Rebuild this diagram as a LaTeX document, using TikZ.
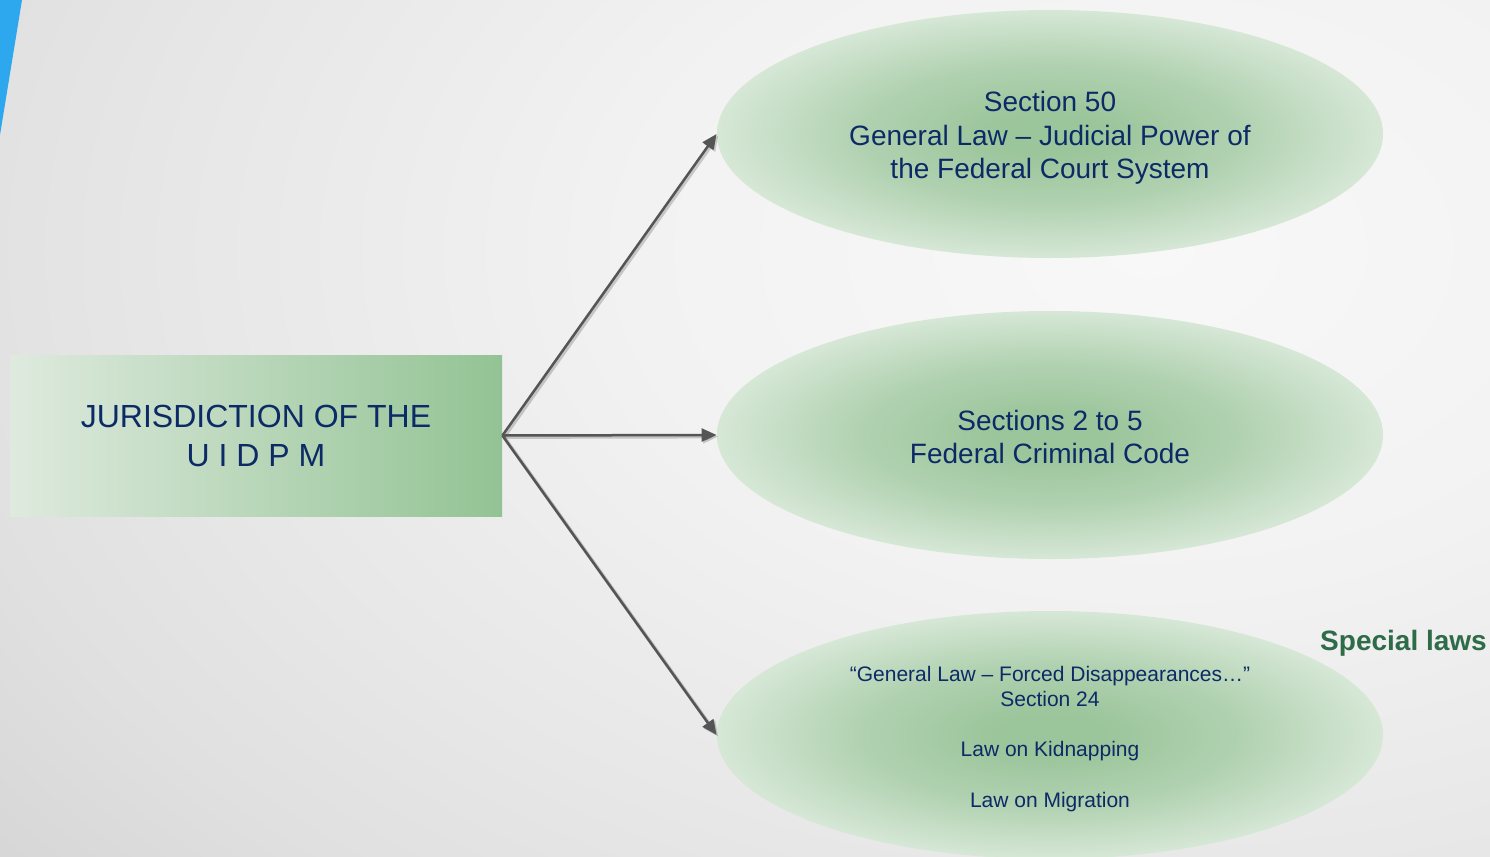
\documentclass[tikz,border=0pt]{standalone}
\usepackage{fontspec}
\setmainfont{Liberation Sans}
\usetikzlibrary{shapes.geometric,arrows.meta}
\definecolor{navy}{HTML}{0C2A66}
\definecolor{bgA}{HTML}{F8F8F8}
\definecolor{bgB}{HTML}{F2F2F2}
\definecolor{bgC}{HTML}{E7E7E7}
\definecolor{bgD}{HTML}{E0E0E0}
\definecolor{bgE}{HTML}{D6D6D6}
\definecolor{blueacc}{HTML}{2DA8EE}
\definecolor{boxl}{HTML}{DEEADE}
\definecolor{boxr}{HTML}{93C394}
\definecolor{ellA}{HTML}{9BC59B}
\definecolor{ellB}{HTML}{B0D1B0}
\definecolor{ellC}{HTML}{D6E7D6}
\definecolor{arrowgray}{HTML}{555555}
\definecolor{specialgreen}{HTML}{2E6B48}
\pgfdeclareradialshading{bgshade}{\pgfpoint{0bp}{0bp}}{color(0bp)=(bgA); color(10bp)=(bgB); color(18.75bp)=(bgC); color(23.75bp)=(bgD); color(28.75bp)=(bgE); color(50bp)=(bgE)}
\pgfdeclareradialshading{ellshade}{\pgfpoint{0bp}{0bp}}{color(0bp)=(ellA); color(4bp)=(ellA); color(14bp)=(ellB); color(25bp)=(ellC); color(50bp)=(ellC)}
\tikzset{
  rootbox/.style={rectangle, minimum width=246pt, minimum height=80.5pt, inner sep=0pt,
    left color=boxl, right color=boxr, text=navy, align=center,
    font=\fontsize{16}{19.5}\selectfont},
  lawell/.style={ellipse, minimum width=333pt, minimum height=124pt, inner sep=0pt,
    shading=ellshade},
  lawtext/.style={text=navy, align=center, inner sep=0pt},
  bigtext/.style={font=\fontsize{14}{16.75}\selectfont},
  smalltext/.style={font=\fontsize{10.5}{12.6}\selectfont},
  conn/.style={draw=arrowgray, line width=1.25pt, -{Triangle[length=7.5pt,width=6.5pt]}},
  connshadow/.style={draw=black, opacity=0.18, line width=1.8pt, -{Triangle[length=7.5pt,width=6.5pt]}},
  speciallabel/.style={text=specialgreen, font=\fontsize{14}{16}\selectfont\bfseries}
}
\begin{document}
\begin{tikzpicture}[x=0.5pt,y=-0.5pt]
\useasboundingbox (0,0) rectangle (1490,857);
\begin{scope}
\clip (0,0) rectangle (1490,857);
\shade[shading=bgshade] (-150,-600) rectangle (2450,1100);
\end{scope}
\fill[blueacc] (0,0) -- (22,0) -- (0,135) -- cycle;

\node[rootbox] (root) at (256,435.5) {JURISDICTION OF THE\\U I D P M};

\node[lawell] (e1) at (1050,134) {};
\node[lawell] (e2) at (1050,435) {};
\node[lawell] (e3) at (1050,735) {};

\node[lawtext, bigtext, yshift=-2pt] (t1) at (e1.center) {Section 50\\General Law -- Judicial Power of\\the Federal Court System};
\node[lawtext, bigtext, yshift=-0.9pt] (t2) at (e2.center) {Sections 2 to 5\\Federal Criminal Code};
\node[lawtext, smalltext, yshift=-1.8pt] (t3) at (e3.center) {“General Law -- Forced Disappearances…”\\Section 24\\[12.6pt]Law on Kidnapping\\[12.6pt]Law on Migration};

\node[speciallabel] (special) at (1403.5,643) {Special laws};

\begin{scope}[transform canvas={shift={(0.8pt,-0.8pt)}}]
\draw[connshadow] (root.east) -- (e1.west);
\draw[connshadow] (root.east) -- (e2.west);
\draw[connshadow] (root.east) -- (e3.west);
\end{scope}
\draw[conn] (root.east) -- (e1.west);
\draw[conn] (root.east) -- (e2.west);
\draw[conn] (root.east) -- (e3.west);
\end{tikzpicture}
\end{document}
